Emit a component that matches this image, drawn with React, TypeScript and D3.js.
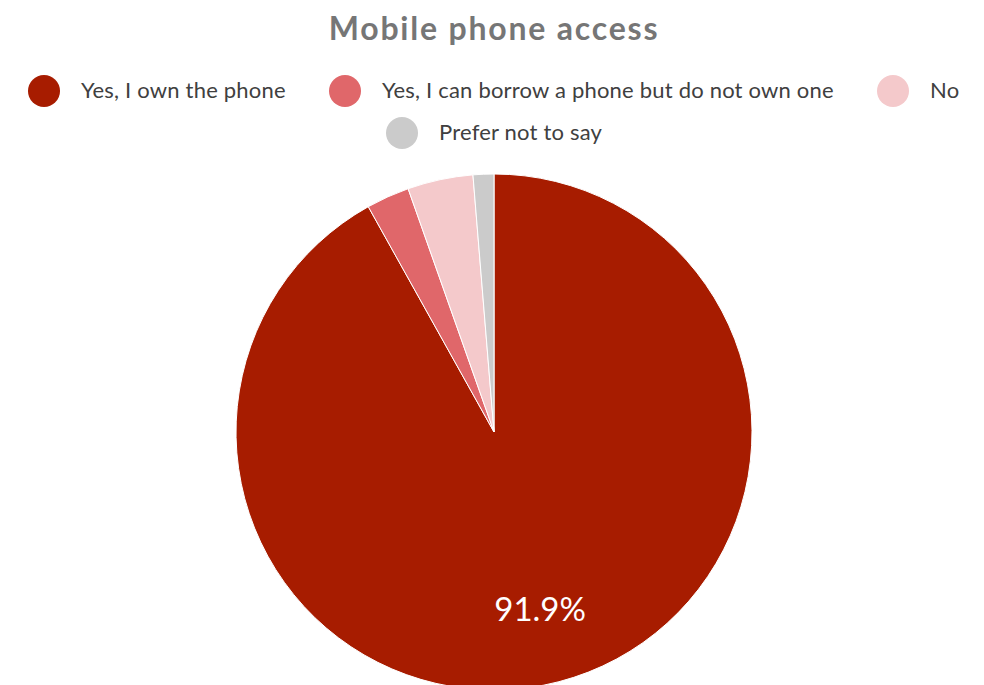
import React from "react";
import * as d3 from "d3";

const categories = [
  "Yes, I own the phone",
  "Yes, I can borrow a phone but do not own one",
  "No",
  "Prefer not to say",
];
const values = [91.9, 2.7, 4.1, 1.3];
const colors = ["#A71C00", "#E0676A", "#F4C9CB", "#CBCBCB"];
const title = "Mobile phone access";

const W = 984;
const H = 685;
const cx = 494;
const cy = 432;
const R = 258;

// legend layout: [markerX, markerY]
const legendLayout = [
  [44, 91],
  [345, 91],
  [893, 91],
  [402, 133],
];

export default function App() {
  const pie = d3.pie<number>().sort(null).value((d) => d);
  const arcs = pie(values);
  const arc = d3.arc<d3.PieArcDatum<number>>().innerRadius(0).outerRadius(R);
  const font = "Lato, 'Open Sans', sans-serif";

  const labelAngle = (arcs[0].startAngle + arcs[0].endAngle) / 2;
  const lr = 0.71 * R;
  const lx = Math.sin(labelAngle) * lr;
  const ly = -Math.cos(labelAngle) * lr;

  return (
    <svg
      width={W}
      height={H}
      style={{ position: "absolute", left: 0, top: 0, background: "#fff" }}
      fontFamily={font}
    >
      <text
        x={494}
        y={40}
        textAnchor="middle"
        fontSize={32}
        letterSpacing={1.8}
        fontWeight="bold"
        fill="#767676"
      >
        {title}
      </text>
      {categories.map((c, i) => (
        <g key={c}>
          <circle cx={legendLayout[i][0]} cy={legendLayout[i][1]} r={16} fill={colors[i]} />
          <text
            x={legendLayout[i][0] + 37}
            y={legendLayout[i][1] + 7}
            fontSize={22}
            letterSpacing={0.2}
            fill="#404040"
          >
            {c}
          </text>
        </g>
      ))}
      <g transform={`translate(${cx},${cy})`}>
        {arcs.map((a, i) => (
          <path key={i} d={arc(a) || ""} fill={colors[i]} stroke="#fff" strokeWidth={1} />
        ))}
        <text
          x={lx}
          y={ly}
          textAnchor="middle"
          fontSize={33}
          fill="#fff"
          dy="0.35em"
        >
          {values[0].toFixed(1)}%
        </text>
      </g>
    </svg>
  );
}
